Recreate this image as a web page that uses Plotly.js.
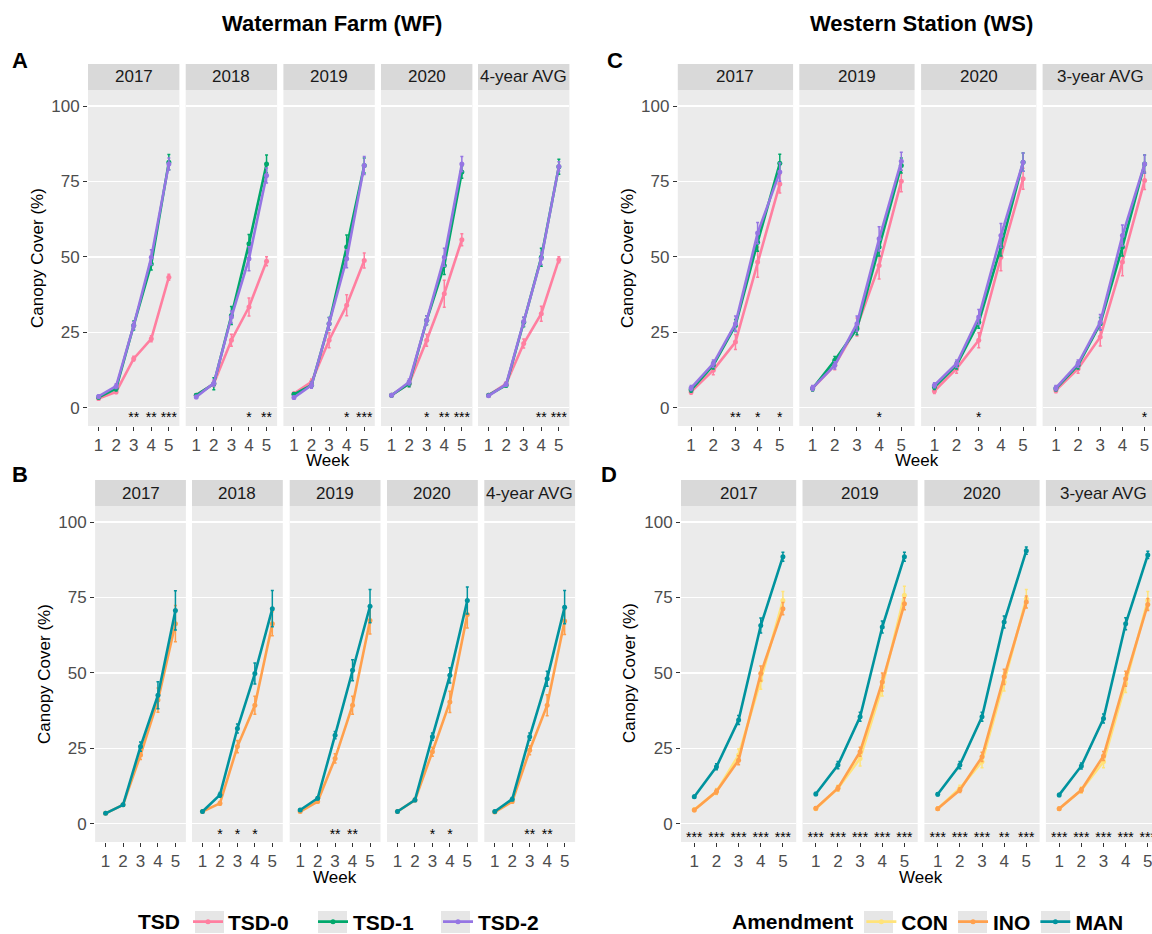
<!DOCTYPE html>
<html>
<head>
<meta charset="utf-8">
<script src="https://cdn.plot.ly/plotly-3.0.1.min.js"></script>
<style>html,body{margin:0;padding:0;background:#fff;}#chart{width:1152px;height:934px;}</style>
</head>
<body>
<div id="chart"></div>
<script>
// ---------------- DATA ----------------
const weeks = [1, 2, 3, 4, 5];
const wfFacets = ['2017', '2018', '2019', '2020', '4-year AVG'];
const wsFacets = ['2017', '2019', '2020', '3-year AVG'];

// Panel A: Waterman Farm, TSD
const A_TSD0 = [[3.1,5.3,16.3,22.9,43.3],[4.2,8.0,22.4,33.4,48.6],[4.7,8.6,22.4,34.0,48.8],[4.2,8.0,22.4,37.8,55.7],[4.2,8.0,21.3,31.2,49.1]];
const A_TSD1 = [[3.5,6.4,27.3,47.7,81.4],[4.2,8.0,30.6,54.4,80.8],[4.5,7.5,27.9,53.3,80.3],[4.2,8.0,29.0,47.2,78.1],[4.2,7.5,28.4,49.9,79.9]];
const A_TSD2 = [[3.8,7.2,27.3,49.9,80.8],[3.6,8.2,30.1,49.4,77.0],[3.4,7.5,27.9,49.4,80.3],[4.2,8.6,29.0,49.9,80.8],[4.0,7.8,28.6,49.5,80.0]];
const A_TSD0_se = [[0.5,0.5,0.8,1,1],[0.5,1,2,3,1.5],[0.5,1,2.5,3.5,2.5],[0.5,1,2,4.5,2],[0.3,0.6,1.5,2.5,1]];
const A_TSD1_se = [[0.5,0.8,1.5,2,2.5],[0.5,2,3,3,3],[0.5,1,2,4,2.5],[0.5,1,1.5,3,2],[0.3,0.6,1.5,3,2.5]];
const A_TSD2_se = [[0.5,0.8,1.2,2.5,2],[0.5,1,2,4,2.5],[0.5,1,2,3,3],[0.5,1,1.5,3,2.5],[0.3,0.6,1.5,2,1.5]];
const A_sig = [['','','**','**','***'],['','','','*','**'],['','','','*','***'],['','','*','**','***'],['','','','**','***']];

// Panel B: Waterman Farm, Amendment
const B_INO = [[3.5,6.3,22.8,41.0,66.3],[4.1,6.8,25.6,39.3,66.3],[4.1,7.4,21.7,39.3,67.4],[4.1,7.9,23.9,40.4,69.4],[3.9,7.4,24.4,39.3,67.2]];
const B_MAN = [[3.5,6.3,25.6,42.6,70.7],[4.1,9.6,31.6,49.8,71.3],[4.6,8.5,29.4,50.9,72.1],[4.1,7.9,28.9,49.2,74.0],[4.1,8.2,28.9,48.1,71.8]];
const B_INO_se = [[0.3,0.3,1.5,4,6],[0.3,0.6,2,3,4],[0.3,0.5,1.5,3,4.5],[0.3,0.5,1.5,3.5,4.5],[0.3,0.5,1.5,3.5,4.5]];
const B_MAN_se = [[0.3,0.3,1.5,4.5,6.5],[0.3,0.8,1.5,3.5,6],[0.3,0.5,1.2,3.5,5.5],[0.3,0.5,1.2,2.5,4.5],[0.3,0.5,1.2,2.5,5.5]];
const B_sig = [['','','','',''],['','*','*','*',''],['','','**','**',''],['','','*','*',''],['','','**','**','']];

// Panel C: Western Station, TSD
const C_TSD0 = [[5.3,12.5,21.8,48.3,74.2],[6.5,14.1,26.8,47.2,75.1],[5.6,13.0,22.4,49.9,75.9],[5.8,13.0,23.5,48.3,75.3]];
const C_TSD1 = [[6.0,14.1,27.3,54.9,81.0],[6.4,15.8,26.2,53.3,80.3],[6.9,14.1,28.4,53.3,81.4],[6.4,14.1,27.9,53.3,80.8]];
const C_TSD2 = [[6.6,14.7,27.9,57.9,78.1],[6.6,14.1,27.9,56.0,81.7],[7.5,14.7,30.1,57.1,81.4],[6.6,14.7,28.4,57.1,80.8]];
const C_TSD0_se = [[0.8,1.5,2.5,5,3],[0.8,1.5,3,4.5,3.5],[0.8,1.5,2.5,4.5,3.5],[0.8,1.5,3,4.5,3]];
const C_TSD1_se = [[0.8,1.2,2,3,3],[0.8,1.2,2,3,2.5],[0.8,1.2,2,3,3],[0.8,1.2,2,3,3]];
const C_TSD2_se = [[0.8,1.2,2.5,3.5,3],[0.8,1.2,2.5,4,3],[0.8,1.2,2.5,4,3],[0.8,1.2,2.5,3.5,3]];
const C_sig = [['','','**','*','*'],['','','','*',''],['','','*','',''],['','','','','*']];

// Panel D: Western Station, Amendment
const D_CON = [[4.7,10.7,22.8,47.6,74.0],[5.0,11.8,21.7,45.4,75.7],[5.0,11.8,20.6,47.0,74.6],[5.0,11.2,20.6,46.5,74.0]];
const D_INO = [[4.6,10.7,21.1,49.8,71.3],[5.2,11.8,23.9,47.0,72.9],[5.0,11.2,22.2,48.7,73.5],[5.0,11.2,22.5,48.1,72.7]];
const D_MAN = [[9.0,18.9,34.4,65.7,88.5],[9.9,19.5,35.5,65.2,88.5],[9.8,19.5,35.5,66.9,90.5],[9.6,19.2,34.9,66.3,89.1]];
const D_CON_se = [[0.5,1,2,3,3],[0.5,1,2.5,3,3],[0.5,1,2,3,3],[0.5,1,2,3,3]];
const D_INO_se = [[0.5,0.8,1.5,2.5,2],[0.5,0.8,1.5,3,2],[0.5,0.8,1.5,2.5,2],[0.5,0.8,1.5,2.5,2]];
const D_MAN_se = [[0.5,1,1.5,2.5,1.5],[0.5,1.2,1.5,2,1.5],[0.5,1.2,1.5,2,1.2],[0.5,1,1.5,2,1.2]];
const D_sig = [['***','***','***','***','***'],['***','***','***','***','***'],['***','***','***','**','***'],['***','***','***','***','***']];

const tsdNames = ['TSD-0', 'TSD-1', 'TSD-2'];
const amdNames = ['CON', 'INO', 'MAN'];
const yTicks = [0, 25, 50, 75, 100];

// ---------------- STYLE / LAYOUT ----------------
const W = 1152, H = 934;
const FONT = 'Liberation Sans, Arial, Helvetica, sans-serif';
const COL = {'TSD-0': '#FF7FA0', 'TSD-1': '#00A86B', 'TSD-2': '#9575E3',
             'CON': '#FFE37A', 'INO': '#FFA04D', 'MAN': '#00939E'};
const YR = [-6, 105.3];
const XR = [0.4, 5.6];

const panels = [
  {key: 'A', facets: wfFacets, x0: [88, 185.7, 283.4, 381, 478], w: 91.4, top: 90, bot: 426, stripTop: 64,
   series: [[tsdNames[0], A_TSD0, A_TSD0_se], [tsdNames[1], A_TSD1, A_TSD1_se], [tsdNames[2], A_TSD2, A_TSD2_se]],
   sig: A_sig, sigY: -3.6, legend: 'legend', showLeg: false,
   letter: [20, 60], ylab: [37, 258], week: [328, 461]},
  {key: 'C', facets: wsFacets, x0: [677.8, 799.3, 921.1, 1042.6], w: 115.3, top: 90, bot: 426, stripTop: 64,
   series: [[tsdNames[0], C_TSD0, C_TSD0_se], [tsdNames[1], C_TSD1, C_TSD1_se], [tsdNames[2], C_TSD2, C_TSD2_se]],
   sig: C_sig, sigY: -3.6, legend: 'legend', showLeg: true,
   letter: [615, 60], ylab: [627, 258], week: [917, 461]},
  {key: 'B', facets: wfFacets, x0: [95.1, 192, 289.7, 387, 484.3], w: 90.8, top: 506, bot: 842, stripTop: 480,
   series: [[amdNames[1], B_INO, B_INO_se], [amdNames[2], B_MAN, B_MAN_se]],
   sig: B_sig, sigY: -3.8, legend: 'legend2', showLeg: false,
   letter: [20, 475], ylab: [44, 674], week: [335, 877]},
  {key: 'D', facets: wsFacets, x0: [681, 802.5, 924.4, 1045.9], w: 115.2, top: 506, bot: 842, stripTop: 480,
   series: [[amdNames[0], D_CON, D_CON_se], [amdNames[1], D_INO, D_INO_se], [amdNames[2], D_MAN, D_MAN_se]],
   sig: D_sig, sigY: -4.7, legend: 'legend2', showLeg: true,
   letter: [609, 475], ylab: [629, 673], week: [921, 877]}
];

const data = [];
const legFont = {family: FONT, size: 21, weight: 'bold', color: '#000'};
const layout = {
  width: W, height: H, margin: {l: 0, r: 0, t: 0, b: 0, autoexpand: false},
  paper_bgcolor: '#FFFFFF', plot_bgcolor: '#EBEBEB',
  font: {family: FONT, color: '#000'},
  shapes: [], annotations: [],
  legend: {orientation: 'h', x: 136 / W, xanchor: 'left', y: 1 - 922 / H, yanchor: 'middle',
           title: {text: 'TSD', side: 'left', font: legFont}, font: legFont, bgcolor: 'rgba(0,0,0,0)',
           itemwidth: 30, entrywidth: 80, traceorder: 'normal'},
  legend2: {orientation: 'h', x: 730 / W, xanchor: 'left', y: 1 - 922 / H, yanchor: 'middle',
           title: {text: 'Amendment', side: 'left', font: legFont}, font: legFont, bgcolor: 'rgba(0,0,0,0)',
           itemwidth: 30, traceorder: 'normal'},
  showlegend: true
};

const px = v => v / W;
const py = v => 1 - v / H;
let ax = 0;

panels.forEach(p => {
  p.facets.forEach((fname, fi) => {
    ax += 1;
    const xs = ax === 1 ? '' : String(ax);
    const left = p.x0[fi];
    let right = left + p.w;
    let xr = XR.slice();
    if (right > W) { // facet cut off by the page edge
      const ppu = p.w / (XR[1] - XR[0]);
      xr = [XR[0], XR[0] + (W - left) / ppu];
      right = W;
    }
    layout['xaxis' + xs] = {
      domain: [px(left), px(right)], range: xr, anchor: 'y' + xs,
      tickvals: weeks, ticktext: weeks.map(String), ticks: 'outside', ticklen: 4, tickwidth: 1, tickcolor: '#333333',
      tickfont: {family: FONT, size: 17, color: '#4D4D4D'}, ticklabeloverflow: 'allow',
      showgrid: false, zeroline: false, showline: false, fixedrange: true
    };
    layout['yaxis' + xs] = {
      domain: [py(p.bot), py(p.top)], range: YR, anchor: 'x' + xs,
      tickvals: yTicks, ticks: fi === 0 ? 'outside' : '', ticklen: 4, tickcolor: '#333333',
      showticklabels: fi === 0, tickfont: {family: FONT, size: 17, color: '#4D4D4D'},
      showgrid: true, gridcolor: '#FFFFFF', gridwidth: 1.2, zeroline: false, showline: false, fixedrange: true
    };
    // strip
    layout.shapes.push({type: 'rect', xref: 'paper', yref: 'paper', x0: px(left), x1: px(Math.min(left + p.w, W)),
      y0: py(p.top), y1: py(p.stripTop), fillcolor: '#D9D9D9', line: {width: 0}, layer: 'below'});
    layout.annotations.push({xref: 'paper', yref: 'paper', x: px(left + p.w / 2), y: py((p.top + p.stripTop) / 2),
      text: fname, showarrow: false, xanchor: 'center', yanchor: 'middle',
      font: {family: FONT, size: 17, color: '#1A1A1A'}});
    // series
    p.series.forEach(([name, vals, se]) => {
      data.push({
        type: 'scatter', mode: 'lines+markers', x: weeks, y: vals[fi], name: name,
        xaxis: 'x' + xs, yaxis: 'y' + xs, legend: p.legend, legendgroup: name,
        showlegend: p.showLeg && fi === 0,
        line: {color: COL[name], width: 2.6}, marker: {color: COL[name], size: 5},
        error_y: {type: 'data', array: se[fi], visible: true, color: COL[name], thickness: 1.5, width: 1.5},
        hoverinfo: 'x+y+name'
      });
    });
    // significance
    data.push({
      type: 'scatter', mode: 'text', x: weeks, y: weeks.map(() => p.sigY), text: p.sig[fi],
      textposition: 'middle center', textfont: {family: FONT, size: 14, color: '#000'},
      xaxis: 'x' + xs, yaxis: 'y' + xs, showlegend: false, hoverinfo: 'skip', cliponaxis: false
    });
  });
  // panel letter, axis titles
  layout.annotations.push({xref: 'paper', yref: 'paper', x: px(p.letter[0]), y: py(p.letter[1]), text: '<b>' + p.key + '</b>',
    showarrow: false, xanchor: 'center', yanchor: 'middle', font: {family: FONT, size: 22, color: '#000'}});
  layout.annotations.push({xref: 'paper', yref: 'paper', x: px(p.ylab[0]), y: py(p.ylab[1]), text: 'Canopy Cover (%)',
    textangle: -90, showarrow: false, xanchor: 'center', yanchor: 'middle', font: {family: FONT, size: 17, color: '#000'}});
  layout.annotations.push({xref: 'paper', yref: 'paper', x: px(p.week[0]), y: py(p.week[1]), text: 'Week',
    showarrow: false, xanchor: 'center', yanchor: 'middle', font: {family: FONT, size: 17, color: '#000'}});
});

// grey legend key boxes (ggplot style)
[195, 318, 441, 864, 958, 1041].forEach(kx => {
  layout.shapes.push({type: 'rect', xref: 'paper', yref: 'paper', x0: px(kx), x1: px(kx + 29),
    y0: py(933), y1: py(911), fillcolor: '#E6E6E6', line: {width: 0}, layer: 'below'});
});

// column titles
layout.annotations.push({xref: 'paper', yref: 'paper', x: px(332), y: py(24), text: '<b>Waterman Farm (WF)</b>',
  showarrow: false, xanchor: 'center', yanchor: 'middle', font: {family: FONT, size: 22, color: '#000'}});
layout.annotations.push({xref: 'paper', yref: 'paper', x: px(921), y: py(24), text: '<b>Western Station (WS)</b>',
  showarrow: false, xanchor: 'center', yanchor: 'middle', font: {family: FONT, size: 22, color: '#000'}});

Plotly.newPlot('chart', data, layout, {displayModeBar: false, staticPlot: true});
</script>
</body>
</html>
